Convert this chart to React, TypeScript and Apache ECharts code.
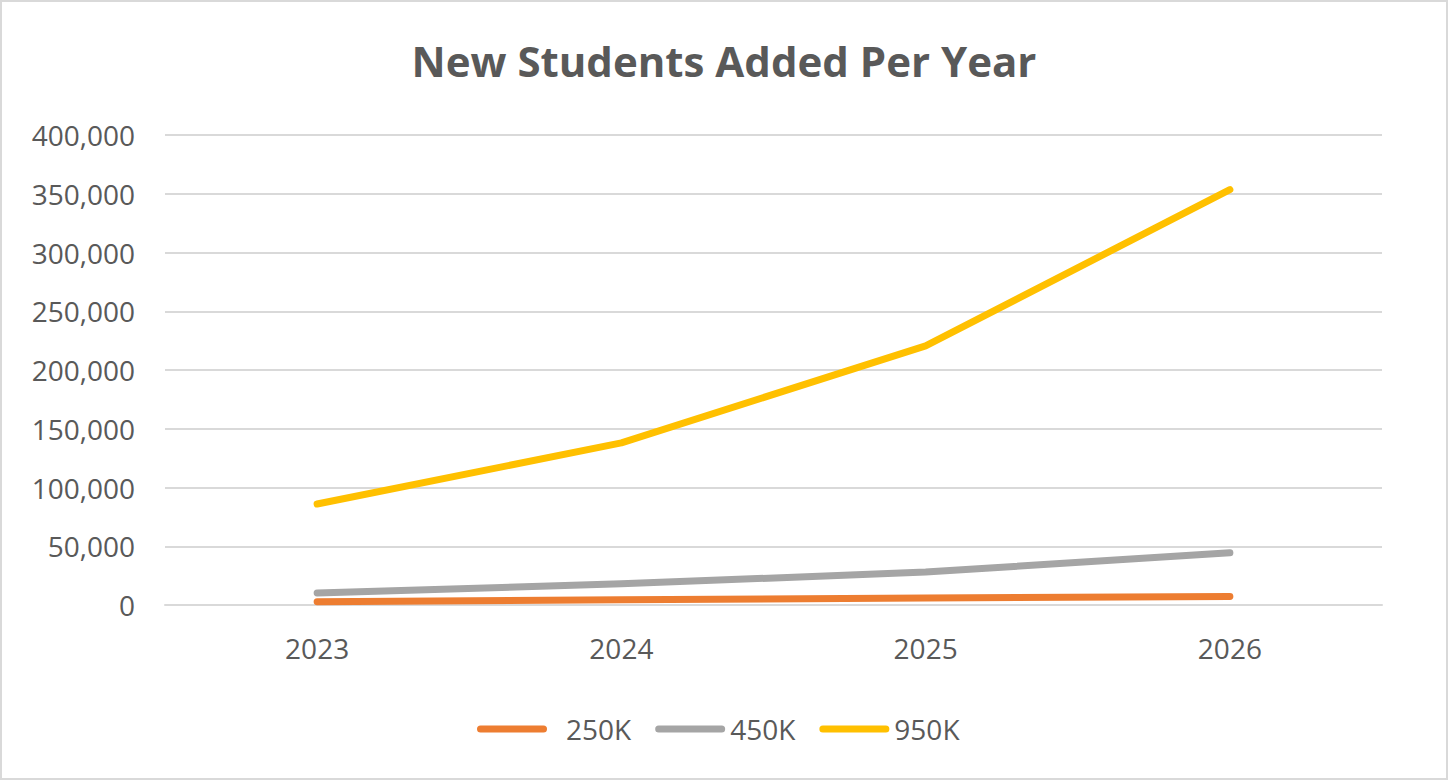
import React, { useEffect, useRef } from "react";
import * as echarts from "echarts";

const categories = ["2023", "2024", "2025", "2026"];
const seriesNames = ["250K", "450K", "950K"];
const values250K = [2800, 4500, 6000, 7200];
const values450K = [10200, 18000, 28000, 44500];
const values950K = [86000, 138000, 220500, 353500];
const seriesColors = ["#ED7D31", "#A5A5A5", "#FFC000"];
const yTicks = { min: 0, max: 400000, interval: 50000 };

const FONT = "'Open Sans', sans-serif";
const legendIcon =
  "path://M3.5,0 H66.5 A3.5,3.5 0 0 1 66.5,7 H3.5 A3.5,3.5 0 0 1 3.5,0 Z";
const legendTextPad = [14, 0, 0];

export default function App() {
  const ref = useRef<HTMLDivElement>(null);
  useEffect(() => {
    if (!ref.current) return;
    const chart = echarts.init(ref.current, null, { renderer: "svg" });
    const data = [values250K, values450K, values950K];
    chart.setOption({
      animation: false,
      backgroundColor: "#ffffff",
      title: {
        text: "New Students Added Per Year",
        left: "center",
        top: 34,
        textStyle: {
          fontFamily: FONT,
          fontWeight: "bold",
          fontSize: 42,
          color: "#595959",
        },
      },
      legend: {
        left: 472,
        top: 710,
        itemWidth: 70,
        itemHeight: 7,
        itemGap: 24,
        icon: legendIcon,
        textStyle: { fontFamily: FONT, fontSize: 28, color: "#595959" },
        data: seriesNames.map((name, i) => ({
          name,
          textStyle: { padding: [0, 0, 0, legendTextPad[i]] },
        })),
      },
      grid: { left: 165, right: 66, top: 135, bottom: 175, containLabel: false },
      xAxis: {
        type: "category",
        data: categories,
        boundaryGap: true,
        axisLine: { lineStyle: { color: "#d9d9d9", width: 2 } },
        axisTick: { show: false },
        axisLabel: { fontFamily: FONT, fontSize: 28, color: "#595959", margin: 29 },
      },
      yAxis: {
        type: "value",
        min: yTicks.min,
        max: yTicks.max,
        interval: yTicks.interval,
        axisLine: { show: false },
        axisTick: { show: false },
        splitLine: { lineStyle: { color: "#d9d9d9", width: 2 } },
        axisLabel: {
          fontFamily: FONT,
          fontSize: 28,
          color: "#595959",
          margin: 30,
          formatter: (v: number) => v.toLocaleString("en-US"),
        },
      },
      series: seriesNames.map((name, i) => ({
        name,
        type: "line",
        data: data[i],
        showSymbol: false,
        symbol: "none",
        color: seriesColors[i],
        lineStyle: { width: 7, color: seriesColors[i], cap: "round", join: "round" },
      })),
    });
    return () => chart.dispose();
  }, []);
  return (
    <div style={{ position: "fixed", left: 0, top: 0, width: 1448, height: 780, background: "#fff" }}>
      <div ref={ref} style={{ width: 1448, height: 780, position: "absolute", left: 0, top: 0 }} />
      <div
        style={{
          position: "absolute",
          left: 0,
          top: 0,
          width: 1448,
          height: 780,
          boxSizing: "border-box",
          border: "2px solid #d9d9d9",
          pointerEvents: "none",
        }}
      />
    </div>
  );
}
